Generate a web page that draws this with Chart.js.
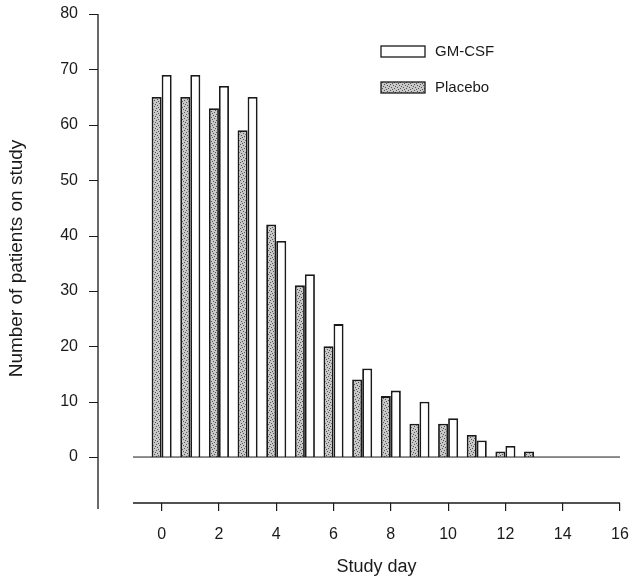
<!DOCTYPE html>
<html>
<head>
<meta charset="utf-8">
<script src="https://cdn.jsdelivr.net/npm/chart.js@4.4.0/dist/chart.umd.min.js"></script>
<style>
  html, body { margin: 0; padding: 0; background: #fff; }
</style>
</head>
<body>
<canvas id="chart" width="633" height="582"></canvas>
<script>
// data
const days    = [0, 1, 2, 3, 4, 5, 6, 7, 8, 9, 10, 11, 12, 13];
const placebo = [65, 65, 63, 59, 42, 31, 20, 14, 11, 6, 6, 4, 1, 1];
const gmcsf   = [69, 69, 67, 65, 39, 33, 24, 16, 12, 10, 7, 3, 2, 0];
const xTicks  = [0, 2, 4, 6, 8, 10, 12, 14, 16];
const yTicks  = [0, 10, 20, 30, 40, 50, 60, 70, 80];

const INK = '#1a1a1a';
const FONT = "'Liberation Sans', Arial, sans-serif";
const Y_GAP = 35;   // y axis sits left of the plot, detached
Chart.defaults.font.family = FONT;
Chart.defaults.color = INK;

// stippled grey fill for the placebo bars
function stipple(){
  const c = document.createElement('canvas');
  c.width = 6; c.height = 6;
  const g = c.getContext('2d');
  g.fillStyle = '#c8c8c8';
  g.fillRect(0, 0, 6, 6);
  g.fillStyle = '#555';
  [[0,0],[3,1],[1,3],[4,4],[2,5],[5,2]].forEach(([x,y]) => g.fillRect(x, y, 1, 1));
  return g.createPattern(c, 'repeat');
}

const pts = arr => days.map((d, i) => ({x: d, y: arr[i]}));

// axis lines, y tick marks and the zero line
const axesPlugin = {
  id: 'axes',
  afterDatasetsDraw(chart){
    const {ctx, chartArea, scales: {x, y}} = chart;
    const ax = chartArea.left - Y_GAP;
    ctx.save();
    ctx.strokeStyle = INK;
    ctx.lineWidth = 1.3;
    ctx.beginPath();
    ctx.moveTo(ax, y.getPixelForValue(80));
    ctx.lineTo(ax, chartArea.bottom + 6);
    ctx.moveTo(chartArea.left, chartArea.bottom);
    ctx.lineTo(chartArea.right, chartArea.bottom);
    ctx.stroke();
    ctx.lineWidth = 1.2;
    ctx.beginPath();
    y.ticks.forEach(t => {
      const py = Math.round(y.getPixelForValue(t.value)) + 0.5;
      ctx.moveTo(ax - 9, py);
      ctx.lineTo(ax, py);
    });
    ctx.stroke();
    ctx.lineWidth = 1;
    ctx.beginPath();
    ctx.moveTo(chartArea.left, y.getPixelForValue(0));
    ctx.lineTo(chartArea.right, y.getPixelForValue(0));
    ctx.stroke();
    ctx.restore();
  }
};

// legend box top right, GM-CSF first
const legendPlugin = {
  id: 'boxLegend',
  afterDraw(chart){
    const {ctx} = chart;
    const order = [1, 0];
    ctx.save();
    ctx.font = '15px ' + FONT;
    ctx.textBaseline = 'middle';
    order.forEach((di, k) => {
      const ds = chart.data.datasets[di];
      const top = 46 + k * 36;
      ctx.fillStyle = ds.backgroundColor;
      ctx.fillRect(381, top, 44, 11);
      ctx.strokeStyle = INK;
      ctx.lineWidth = 1.3;
      ctx.strokeRect(381, top, 44, 11);
      ctx.fillStyle = INK;
      ctx.fillText(ds.label, 435, top + 6);
    });
    ctx.restore();
  }
};

new Chart(document.getElementById('chart'), {
  type: 'bar',
  data: {
    datasets: [
      {label: 'Placebo', data: pts(placebo), backgroundColor: stipple(),
       borderColor: INK, borderWidth: 1.8},
      {label: 'GM-CSF', data: pts(gmcsf), backgroundColor: '#ffffff',
       borderColor: INK, borderWidth: 1.8}
    ]
  },
  options: {
    responsive: false,
    animation: false,
    categoryPercentage: 0.7,
    barPercentage: 1.0,
    layout: {padding: {left: 0, right: 13, top: 14, bottom: 0}},
    plugins: {legend: {display: false}, tooltip: {enabled: false}},
    scales: {
      x: {
        type: 'linear', min: -1, max: 16, offset: false,
        afterBuildTicks: s => { s.ticks = xTicks.map(v => ({value: v})); },
        afterFit: s => { s.height = 79; s.paddingLeft = 0; s.paddingRight = 0; },
        grid: {offset: false, drawOnChartArea: false, drawTicks: true, tickLength: 8, color: INK, lineWidth: 1.2},
        border: {display: false},
        ticks: {padding: 14, font: {size: 16}, color: INK, maxRotation: 0},
        title: {display: true, text: 'Study day', font: {size: 18}, color: INK, padding: {top: 2, bottom: 4}}
      },
      y: {
        type: 'linear', min: -8.3, max: 80,
        afterBuildTicks: s => { s.ticks = yTicks.map(v => ({value: v})); },
        afterFit: s => { s.width = 133; s.paddingTop = 0; s.paddingBottom = 0; },
        grid: {display: false, drawTicks: false},
        border: {display: false},
        ticks: {padding: 55, font: {size: 16}, color: INK},
        title: {display: true, text: 'Number of patients on study', font: {size: 19}, color: INK, padding: {top: 5, bottom: 4}}
      }
    }
  },
  plugins: [axesPlugin, legendPlugin]
});
</script>
</body>
</html>
